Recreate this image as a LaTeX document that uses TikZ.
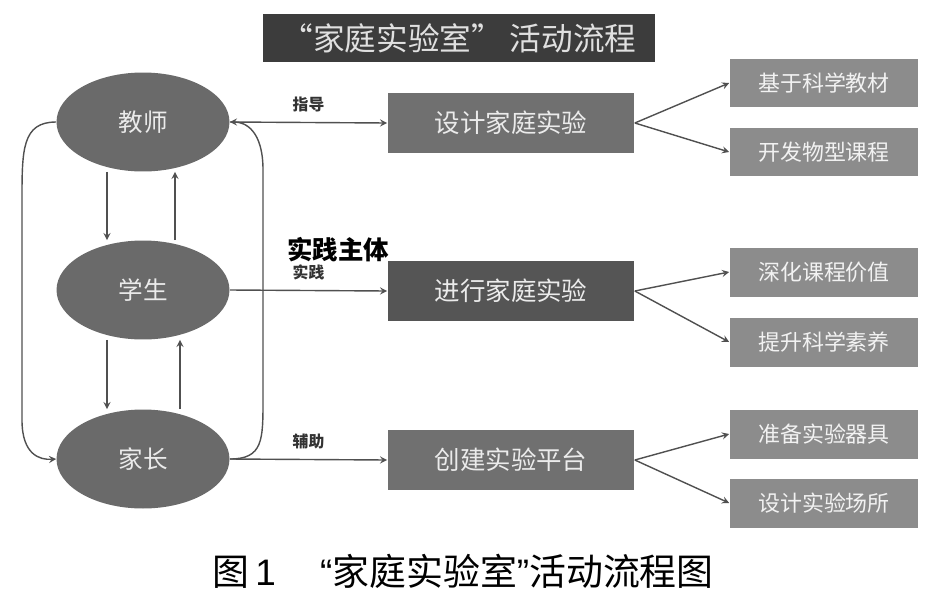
\documentclass[tikz,border=0pt]{standalone}
\usepackage{fontspec}
\setmainfont{Noto Sans CJK SC}
\newfontfamily\latinsans{Liberation Sans}
\usetikzlibrary{shapes.geometric}
\definecolor{titlegray}{HTML}{3C3C3C}
\definecolor{ellgray}{HTML}{6A6A6A}
\definecolor{midgray}{HTML}{707070}
\definecolor{darkmid}{HTML}{555555}
\definecolor{rightgray}{HTML}{8C8C8C}
\definecolor{linegray}{HTML}{505050}
\begin{document}
\begin{tikzpicture}[>=stealth, x=0.02cm, y=-0.02cm,
  role/.style={ellipse, fill=ellgray, text=white!92!black, minimum width=3.46cm, minimum height=1.98cm, inner sep=0pt, font=\fontsize{14}{16}\selectfont},
  midbox/.style={rectangle, fill=midgray, text=white!92!black, minimum width=4.94cm, minimum height=1.2cm, inner sep=0pt, font=\fontsize{14.5}{16}\selectfont},
  subbox/.style={rectangle, fill=rightgray, text=white!95!black, minimum width=3.78cm, minimum height=0.98cm, inner sep=0pt, font=\fontsize{12.5}{14}\selectfont},
  lbl/.style={font=\fontsize{9}{10}\selectfont\bfseries, text=black!80},
  line/.style={draw=linegray, thick}]
\useasboundingbox (0,0) rectangle (929,592);
% title
\node[fill=titlegray, text=white!88!black, minimum width=7.84cm, minimum height=0.98cm, inner sep=0pt, font=\fontsize{18}{20}\selectfont] (title) at (459,38) {“家庭实验室” 活动流程};
% roles
\node[role] (js) at (143,122) {教师};
\node[role] (xs) at (143,290) {学生};
\node[role] (jz) at (143,459) {家长};
% middle boxes
\node[midbox] (sj) at (511,123) {设计家庭实验};
\node[midbox, fill=darkmid] (jx) at (511,291) {进行家庭实验};
\node[midbox] (cj) at (511,460) {创建实验平台};
% right boxes
\node[subbox] (a1) at (824,83) {基于科学教材};
\node[subbox] (a2) at (824,152) {开发物型课程};
\node[subbox] (b1) at (824,272) {深化课程价值};
\node[subbox] (b2) at (824,342) {提升科学素养};
\node[subbox] (c1) at (824,434) {准备实验器具};
\node[subbox] (c2) at (824,503) {设计实验场所};
% vertical arrows
\coordinate (dn) at (107,0);
\coordinate (up1) at (175,0);
\coordinate (up2) at (180,0);
\draw[line,->] (js.south -| dn) -- (xs.north -| dn);
\draw[line,->] (xs.north -| up1) -- (js.south -| up1);
\draw[line,->] (xs.south -| dn) -- (jz.north -| dn);
\draw[line,->] (jz.north -| up2) -- (xs.south -| up2);
% loops
\draw[line,->] (js.west) .. controls (22,122) and (22,150) .. (22,200) -- (22,420) .. controls (22,455) and (40,460) .. (jz.west);
\draw[line,->] (jz.east) .. controls (263,459) and (263,440) .. (263,400) -- (263,170) .. controls (263,130) and (245,122) .. (js.east);
% horizontal arrows
\draw[line,->] (js.east) -- (sj.west) node[midway, above=2pt, lbl] (zd) {指导};
\draw[line,->] (xs.east) -- (jx.west) node[midway, above=2pt, lbl] (sjl) {实践};
\node[font=\fontsize{14.5}{16}\selectfont\bfseries, text=black] (zt) at (338,250) {实践主体};
\draw[line,->] (jz.east) -- (cj.west) node[midway, above=2pt, lbl] (fz) {辅助};
% branches
\foreach \m/\s in {sj/a1, sj/a2, jx/b1, jx/b2, cj/c1, cj/c2}
  \draw[line,->] (\m.east) -- (\s.west);
% caption
\node[font=\fontsize{21}{23}\selectfont, inner sep=0pt] (cap) at (463,571) {图{\latinsans\,1\hspace{1.2em}“}家庭实验室{\latinsans ”}活动流程图};
\end{tikzpicture}
\end{document}
